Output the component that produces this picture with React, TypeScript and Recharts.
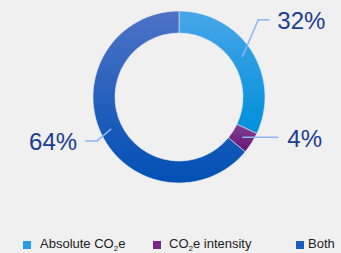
import { PieChart, Pie, Cell, Legend } from 'recharts'

const categories = ['Absolute CO2e', 'CO2e intensity', 'Both']
const shares = [32, 4, 64]
const labels = ['32%', '4%', '64%']

const data = categories.map((name, i) => ({ name, value: shares[i], label: labels[i] }))

const gradients = [
  { id: 'g-abs', top: '#47a6e8', bottom: '#008fdb', swatch: '#2a9ce6' },
  { id: 'g-int', top: '#7d4290', bottom: '#6a1276', swatch: '#7a2a86' },
  { id: 'g-both', top: '#4d72c6', bottom: '#0050b4', swatch: '#1c5ec0' },
]

// leader line shapes per slice, relative to the mid-ring point
const leaders = [
  { elbow: [16, -37], end: [27, -37], tx: 35, ty: -36, anchor: 'start' },
  { elbow: [0, 0], end: [36, 0], tx: 45, ty: 1, anchor: 'start' },
  { elbow: [-14, 12], end: [-26, 12], tx: -34, ty: 13, anchor: 'end' },
]

const RAD = Math.PI / 180

function renderLabel(props: any) {
  const { cx, cy, midAngle, innerRadius, outerRadius, index } = props
  const r = (innerRadius + outerRadius) / 2
  const x = cx + r * Math.cos(-midAngle * RAD)
  const y = cy + r * Math.sin(-midAngle * RAD)
  const l = leaders[index]
  return (
    <g>
      <polyline
        points={`${x},${y} ${x + l.elbow[0]},${y + l.elbow[1]} ${x + l.end[0]},${y + l.end[1]}`}
        fill="none"
        stroke="#8db4f5"
        strokeWidth={1.5}
      />
      <text
        x={x + l.tx}
        y={y + l.ty}
        textAnchor={l.anchor as any}
        dominantBaseline="central"
        fontSize={24}
        fontFamily="'Liberation Sans', Arial, sans-serif"
        fill="#1b3d8f"
      >
        {data[index].label}
      </text>
    </g>
  )
}

function LegendContent() {
  const items = [
    { sq: 23, tx: 40, text: <>Absolute CO<sub>2</sub>e</> },
    { sq: 153, tx: 169, text: <>CO<sub>2</sub>e intensity</> },
    { sq: 296, tx: 308, text: <>Both</> },
  ]
  return (
    <div style={{ position: 'relative', width: 341, height: 20 }}>
      {items.map((it, i) => (
        <div key={i}>
          <div
            style={{
              position: 'absolute',
              left: it.sq,
              top: 4,
              width: 8,
              height: 8,
              background: gradients[i].swatch,
            }}
          />
          <div
            style={{
              position: 'absolute',
              left: it.tx,
              top: -1,
              fontSize: 13,
              lineHeight: '16px',
              color: '#222',
              fontFamily: "'Liberation Sans', Arial, sans-serif",
              whiteSpace: 'nowrap',
            }}
          >
            {it.text}
          </div>
        </div>
      ))}
    </div>
  )
}

export default function App() {
  return (
    <div style={{ position: 'fixed', left: 0, top: 0, width: 341, height: 253, background: '#f0f0f0' }}>
      <style>{'sub{font-size:8px;line-height:0;vertical-align:-3px}'}</style>
      <PieChart width={341} height={253} margin={{ top: 0, right: 0, bottom: 0, left: 0 }}>
        <defs>
          {gradients.map((g) => (
            <linearGradient key={g.id} id={g.id} x1="0" y1="0" x2="0" y2="1">
              <stop offset="0%" stopColor={g.top} />
              <stop offset="100%" stopColor={g.bottom} />
            </linearGradient>
          ))}
        </defs>
        <Pie
          data={data}
          dataKey="value"
          nameKey="name"
          cx={179}
          cy={97}
          innerRadius={64}
          outerRadius={86}
          startAngle={90}
          endAngle={-270}
          stroke="#e8eaf4"
          strokeWidth={0.6}
          label={renderLabel}
          labelLine={false}
          isAnimationActive={false}
        >
          {data.map((d, i) => (
            <Cell key={d.name} fill={`url(#${gradients[i].id})`} />
          ))}
        </Pie>
        <Legend
          verticalAlign="bottom"
          content={() => <LegendContent />}
          wrapperStyle={{ left: 0, bottom: 0, top: 237, width: 341 }}
        />
      </PieChart>
    </div>
  )
}
